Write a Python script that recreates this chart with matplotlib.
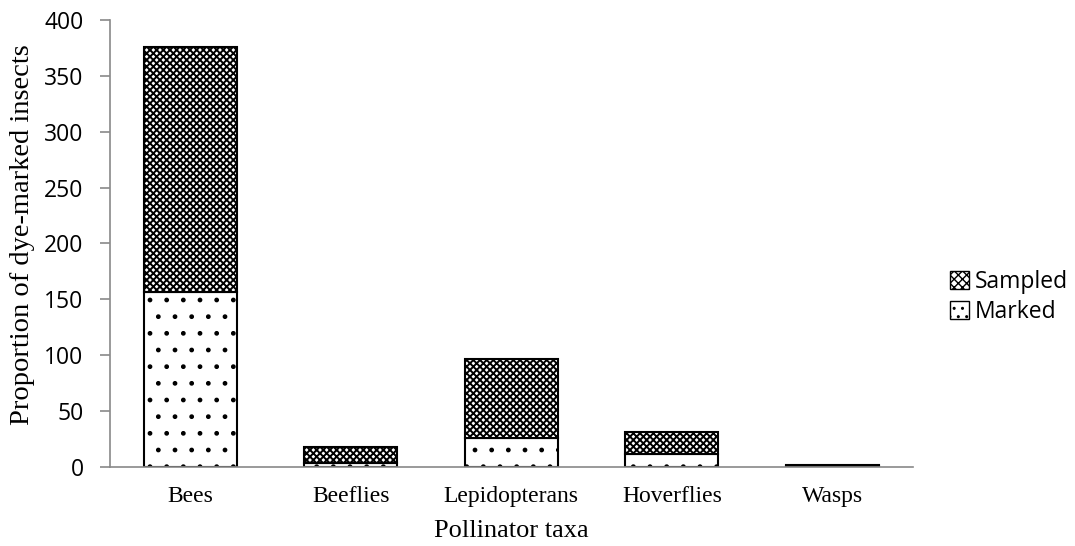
import numpy as np
import matplotlib.pyplot as plt
from matplotlib.patches import Patch

# Dados
taxa = ['Bees', 'Beeflies', 'Lepidopterans', 'Hoverflies', 'Wasps']
marked = [157, 4, 26, 12, 1]
sampled_total = [376, 18, 97, 31, 2]
sampled = [t - m for t, m in zip(sampled_total, marked)]

fig = plt.figure(figsize=(10.75, 5.46), dpi=100)
ax = fig.add_axes([0.1023, 0.1447, 0.7467, 0.8187])

x = np.arange(len(taxa))
w = 0.58
with plt.rc_context({'hatch.linewidth': 1.0}):
    ax.bar(x, marked, w, color='white', edgecolor='black', linewidth=1.5, hatch='.')
with plt.rc_context({'hatch.linewidth': 1.4}):
    ax.bar(x, sampled, w, bottom=marked, color='white', edgecolor='black',
           linewidth=1.5, hatch='xxxxx')

ax.set_xlim(-0.5, len(taxa) - 0.5)
ax.set_ylim(0, 400)
ax.set_yticks(range(0, 401, 50))
ax.set_xticks(x)
ax.set_xticklabels(taxa, fontfamily='Liberation Serif', fontsize=17)
for lab in ax.get_yticklabels():
    lab.set_fontfamily('Open Sans')
    lab.set_fontsize(16.5)

for s in ['top', 'right']:
    ax.spines[s].set_visible(False)
for s in ['left', 'bottom']:
    ax.spines[s].set_color('#898989')
    ax.spines[s].set_linewidth(1.2)
ax.tick_params(axis='y', colors='#898989', labelcolor='black', length=7, width=1.2, pad=12)
ax.tick_params(axis='x', length=0, pad=14)

ax.set_xlabel('Pollinator taxa', fontfamily='Liberation Serif', fontsize=19, labelpad=9)
ax.set_ylabel('Proportion of dye-marked insects', fontfamily='Liberation Serif',
              fontsize=20.5)
ax.yaxis.set_label_coords(-0.094, 0.52)

with plt.rc_context({'hatch.linewidth': 1.2}):
    handles = [Patch(facecolor='white', edgecolor='black', hatch='xxxx', label='Sampled'),
               Patch(facecolor='white', edgecolor='black', hatch='..', label='Marked')]
fig.legend(handles=handles, loc='center left', bbox_to_anchor=(0.884, 0.456),
           frameon=False, prop={'family': 'Open Sans', 'size': 16.5}, borderpad=0,
           borderaxespad=0, handlelength=0.8, handleheight=0.8,
           handletextpad=0.25, labelspacing=0.25)

fig.savefig('out.png', dpi=100)
